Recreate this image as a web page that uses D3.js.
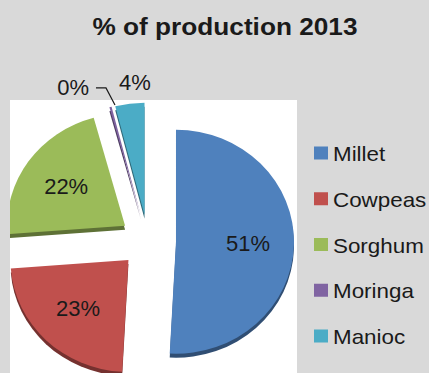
<!DOCTYPE html>
<html>
<head>
<meta charset="utf-8">
<script src="https://cdn.jsdelivr.net/npm/d3@7"></script>
<style>
  html, body { margin: 0; padding: 0; background: #d9d9d9; }
  svg { display: block; font-family: "Liberation Sans", Arial, sans-serif; }
</style>
</head>
<body>
<svg id="chart" width="429" height="373"></svg>
<script>
// Share of production in 2013, by crop (percent)
const crops = ["Millet", "Cowpeas", "Sorghum", "Moringa", "Manioc"];
const shares = [51, 23, 22, 0.3, 4];
const colors = ["#4f81bd", "#c0504d", "#9bbb59", "#8064a2", "#4bacc6"];
const titleText = "% of production 2013";

const W = 429, H = 373;
const svg = d3.select("#chart");

svg.append("rect").attr("width", W).attr("height", H).attr("fill", "#d9d9d9");

// plot area
const plot = { x: 10, y: 100, w: 287, h: 273 };
svg.append("rect")
  .attr("x", plot.x).attr("y", plot.y)
  .attr("width", plot.w).attr("height", plot.h)
  .attr("fill", "#ffffff");

svg.append("defs").append("clipPath").attr("id", "plotClip")
  .append("rect")
  .attr("x", plot.x).attr("y", plot.y)
  .attr("width", plot.w).attr("height", plot.h);

// title
svg.append("text")
  .attr("x", 225).attr("y", 35)
  .attr("text-anchor", "middle")
  .attr("font-size", 24.5)
  .attr("font-weight", "bold")
  .attr("fill", "#1a1a1a")
  .attr("transform", "translate(225,0) scale(1.07,1) translate(-225,0)")
  .text(titleText);

// exploded pie, slightly flattened for a tilted look
const cx = 148, cy = 241;
const rx = 118, ry = 112;
const kY = ry / rx;
const explode = 28;
const depth = 4;

const data = crops.map((c, i) => ({ crop: c, value: shares[i], color: colors[i] }));
const pie = d3.pie().sort(null).value(d => d.value);
const arcs = pie(data);

const arc = d3.arc().innerRadius(0).outerRadius(rx);
const labelArc = d3.arc().innerRadius(72).outerRadius(72);

function offsetOf(a) {
  const mid = (a.startAngle + a.endAngle) / 2;
  return [explode * Math.sin(mid), -explode * Math.cos(mid) * kY];
}

const pieG = svg.append("g").attr("clip-path", "url(#plotClip)");

// side (thickness) drawn first
arcs.forEach(a => {
  const [dx, dy] = offsetOf(a);
  pieG.append("path")
    .attr("d", arc(a))
    .attr("fill", d3.color(a.data.color).darker(1.4))
    .attr("transform", `translate(${cx + dx},${cy + dy + depth}) scale(1,${kY})`);
});

// top faces
arcs.forEach(a => {
  const [dx, dy] = offsetOf(a);
  pieG.append("path")
    .attr("d", arc(a))
    .attr("fill", a.data.color)
    .attr("transform", `translate(${cx + dx},${cy + dy}) scale(1,${kY})`);
});

// labels inside the large slices, outside for the small ones
const fmt = v => Math.round(v) + "%";
arcs.forEach((a, i) => {
  const [dx, dy] = offsetOf(a);
  const v = a.data.value;
  if (v >= 10) {
    const [lx, ly] = labelArc.centroid(a);
    svg.append("text")
      .attr("x", cx + dx + lx).attr("y", cy + dy + ly * kY)
      .attr("text-anchor", "middle").attr("dominant-baseline", "central")
      .attr("font-size", 22).attr("fill", "#1a1a1a")
      .text(fmt(v));
  }
});

// Moringa: leader line to an outside label
{
  const a = arcs[3];
  const [dx, dy] = offsetOf(a);
  const mid = (a.startAngle + a.endAngle) / 2;
  const px = cx + dx + (rx - 2) * Math.sin(mid) + 4;
  const py = cy + dy - (rx - 2) * Math.cos(mid) * kY - 4;
  const kx = px - 9, ky = py - 17;
  svg.append("path")
    .attr("d", `M${px},${py}L${kx},${ky}L${kx - 10},${ky}`)
    .attr("fill", "none").attr("stroke", "#1a1a1a").attr("stroke-width", 1.2);
  svg.append("text")
    .attr("x", kx - 17).attr("y", ky)
    .attr("text-anchor", "end").attr("dominant-baseline", "central")
    .attr("font-size", 22).attr("fill", "#1a1a1a")
    .text(fmt(a.data.value));
}

// Manioc: label just outside its slice
{
  const a = arcs[4];
  const [dx, dy] = offsetOf(a);
  const mid = (a.startAngle + a.endAngle) / 2;
  const r = rx + 22;
  svg.append("text")
    .attr("x", cx + dx + r * Math.sin(mid) + 8).attr("y", cy + dy - r * Math.cos(mid) * kY)
    .attr("text-anchor", "middle").attr("dominant-baseline", "central")
    .attr("font-size", 22).attr("fill", "#1a1a1a")
    .text(fmt(a.data.value));
}

// legend
const legendY = d3.scalePoint().domain(crops).range([153, 336]);
const legend = svg.append("g");
crops.forEach((c, i) => {
  const y = legendY(c);
  legend.append("rect")
    .attr("x", 314).attr("y", y - 6.5)
    .attr("width", 14).attr("height", 13)
    .attr("fill", colors[i]);
  legend.append("text")
    .attr("x", 333).attr("y", y + 1)
    .attr("dominant-baseline", "central")
    .attr("font-size", 20).attr("fill", "#1a1a1a")
    .attr("transform", `translate(333,0) scale(1.12,1) translate(-333,0)`)
    .text(c);
});
</script>
</body>
</html>
